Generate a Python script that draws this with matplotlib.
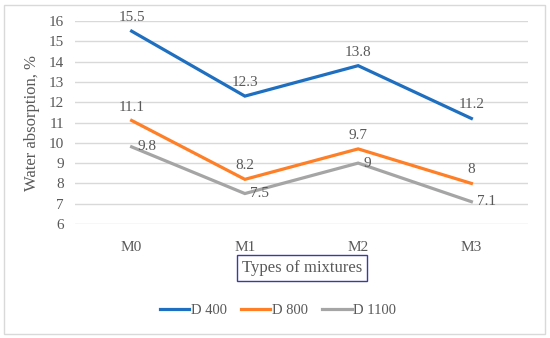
import matplotlib.pyplot as plt
from matplotlib.patches import Rectangle

mixtures = ['M0', 'M1', 'M2', 'M3']
d400 = [15.5, 12.3, 13.8, 11.2]
d800 = [11.1, 8.2, 9.7, 8.0]
d1100 = [9.8, 7.5, 9.0, 7.1]
labels = ['D 400', 'D 800', 'D 1100']
yticks = [6, 7, 8, 9, 10, 11, 12, 13, 14, 15, 16]

txt = '#595959'
plt.rcParams['font.family'] = ['Liberation Serif', 'DejaVu Serif']

fig = plt.figure(figsize=(5.5, 3.38), dpi=100)
ax = fig.add_axes([75 / 550, 1 - 224 / 338, 453 / 550, 203 / 338])

x = range(len(mixtures))
series = [(d400, '#1F6FC0', 'above'), (d800, '#FF7F27', 'above'), (d1100, '#A5A5A5', 'right')]
for (vals, col, pos), lab in zip(series, labels):
    ax.plot(x, vals, color=col, lw=2.3, label=lab, solid_joinstyle='miter')
    for xi, v in zip(x, vals):
        s = f'{v:g}'
        if pos == 'above':
            ax.annotate(s, (xi, v), xytext=(0, 5), textcoords='offset points',
                        ha='center', va='bottom', fontsize=11, color=txt)
        else:
            ax.annotate(s, (xi, v), xytext=(4, 0), textcoords='offset points',
                        ha='left', va='center', fontsize=11, color=txt)

ax.set_xlim(-0.5, 3.5)
ax.set_ylim(6, 16)
ax.set_yticks(yticks)
ax.set_xticks(list(x))
ax.set_xticklabels(mixtures)
ax.grid(axis='y', color='#D9D9D9', lw=1)
ax.set_axisbelow(True)
for sp in ax.spines.values():
    sp.set_visible(False)
ax.tick_params(length=0, labelsize=11, colors=txt, pad=12)
ax.tick_params(axis='y', pad=8)
ax.set_ylabel('Water absorption, %', fontsize=12, color=txt, labelpad=6)

fig.text(302 / 550, 1 - 268 / 338, 'Types of mixtures', ha='center', va='center',
         fontsize=12, color=txt,
         bbox=dict(boxstyle='square,pad=0.3', fc='white', ec='#3C3CA0', lw=1))

ax.legend(loc='center', bbox_to_anchor=(278 / 550, 1 - 310 / 338),
          bbox_transform=fig.transFigure, ncol=3, frameon=False,
          fontsize=10.5, labelcolor=txt, handlelength=2.0, handletextpad=0.1,
          columnspacing=1.0)

fig.patches.append(Rectangle((4 / 550, 4 / 338), 541 / 550, 329 / 338,
                             transform=fig.transFigure, fill=False,
                             ec='#D9D9D9', lw=1))

fig.savefig('out.png', dpi=100)
